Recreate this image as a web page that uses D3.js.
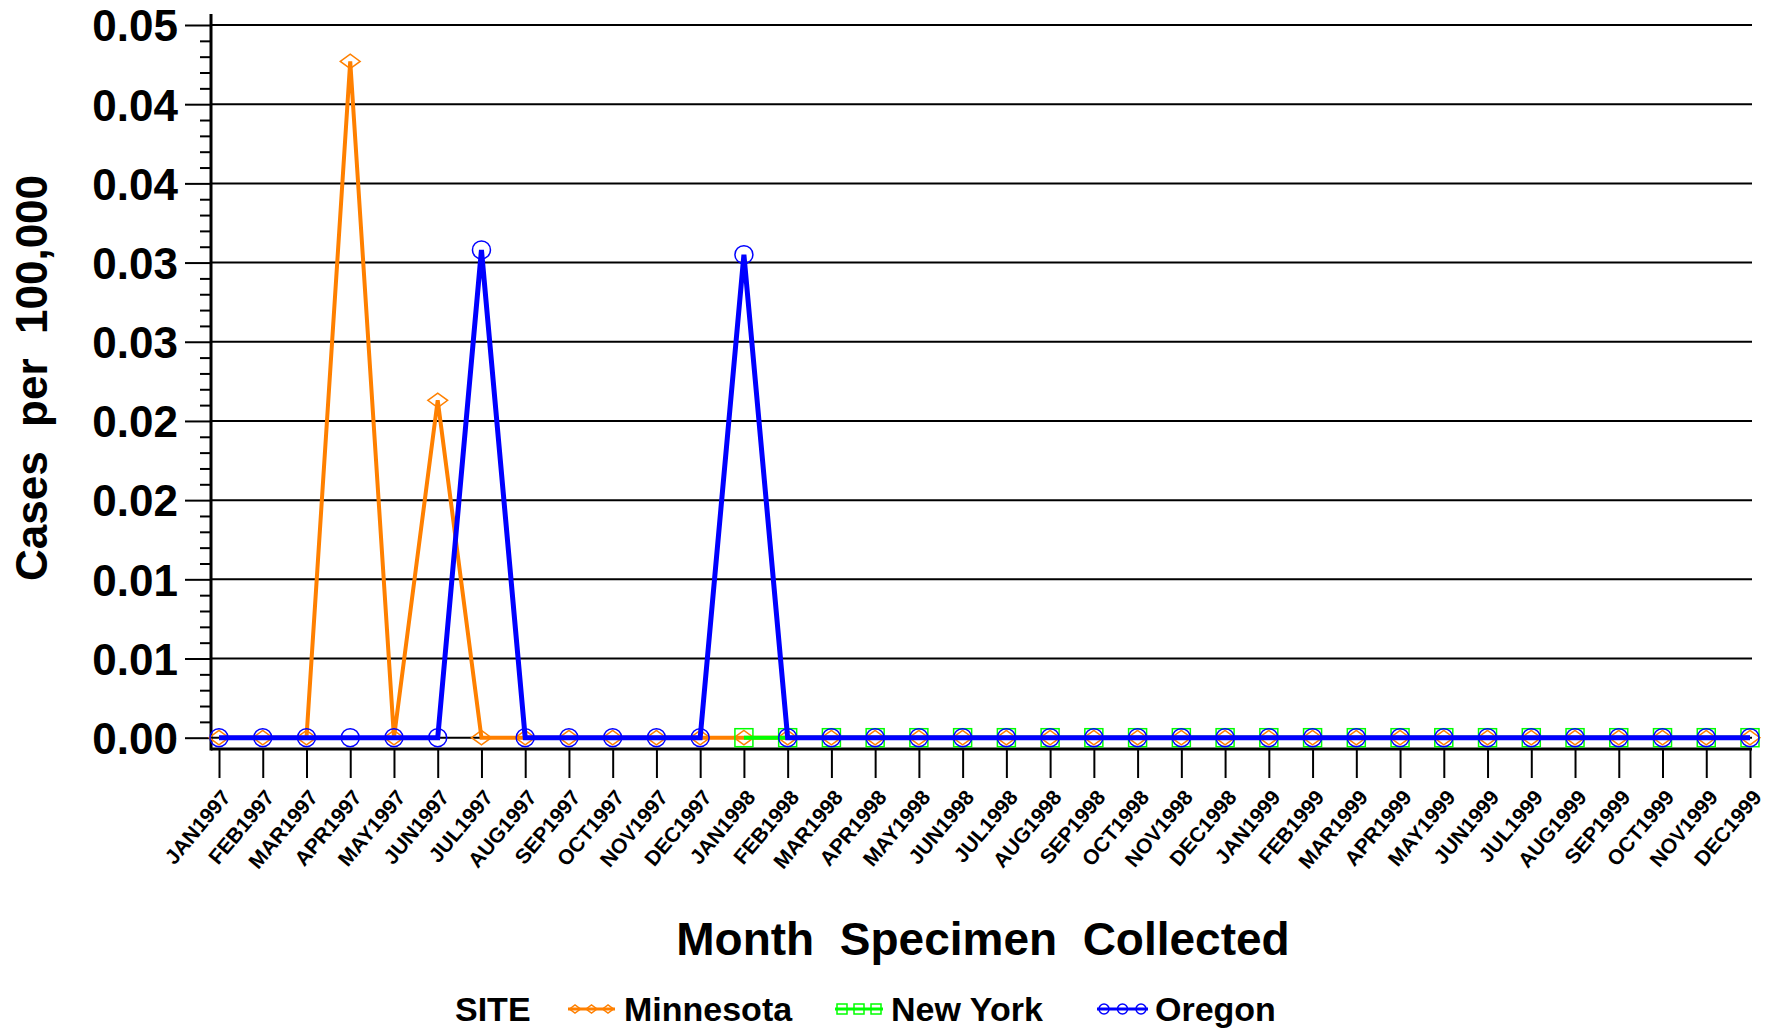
<!DOCTYPE html>
<html>
<head>
<meta charset="utf-8">
<script src="https://cdn.jsdelivr.net/npm/d3@7"></script>
<style>
  html, body { margin: 0; padding: 0; background: #fff; }
  svg { display: block; font-family: "Liberation Sans", Arial, Helvetica, sans-serif; }
  text { white-space: pre; }
</style>
</head>
<body>
<svg id="chart" width="1769" height="1031"></svg>
<script>
const months = ["JAN1997","FEB1997","MAR1997","APR1997","MAY1997","JUN1997","JUL1997","AUG1997","SEP1997","OCT1997","NOV1997","DEC1997",
                "JAN1998","FEB1998","MAR1998","APR1998","MAY1998","JUN1998","JUL1998","AUG1998","SEP1998","OCT1998","NOV1998","DEC1998",
                "JAN1999","FEB1999","MAR1999","APR1999","MAY1999","JUN1999","JUL1999","AUG1999","SEP1999","OCT1999","NOV1999","DEC1999"];
const minnesota = [0,0,0,0.0427,0,0.0213,0,0,0,0,0,0, 0,0,0,0,0,0,0,0,0,0,0,0, 0,0,0,0,0,0,0,0,0,0,0,0];
const newYork   = [null,null,null,null,null,null,null,null,null,null,null,null, 0,0,0,0,0,0,0,0,0,0,0,0, 0,0,0,0,0,0,0,0,0,0,0,0];
const oregon    = [0,0,0,0,0,0,0.0308,0,0,0,0,0, 0.0305,0,0,0,0,0,0,0,0,0,0,0, 0,0,0,0,0,0,0,0,0,0,0,0];
const yTickValues = [0,0.005,0.010,0.015,0.020,0.025,0.030,0.035,0.040,0.045];
const yTickLabels = ["0.00","0.01","0.01","0.02","0.02","0.03","0.03","0.04","0.04","0.05"];
const seriesNames = ["Minnesota","New York","Oregon"];
const seriesColors = ["#ff8000","#00ff00","#0000ff"];
const seriesShapes = ["diamond","square","circle"];

const svg = d3.select("#chart");
const axisLeft = 211, axisRight = 1752, axisBottom = 749, axisTop = 14;

const x = d3.scalePoint().domain(months).range([219, 1750]);
const y = d3.scaleLinear().domain([0, 0.045]).range([737.7, 25]);

// gridlines
svg.append("g").selectAll("line").data(yTickValues).join("line")
  .attr("x1", axisLeft).attr("x2", axisRight)
  .attr("y1", d => y(d)).attr("y2", d => y(d))
  .attr("stroke", "#000").attr("stroke-width", 2);

// y axis major ticks
const yAxis = d3.axisLeft(y).tickValues(yTickValues)
  .tickFormat((d, i) => yTickLabels[i]).tickSize(26).tickPadding(7);
const gy = svg.append("g").attr("transform", `translate(${axisLeft},0)`).call(yAxis);
gy.select(".domain").remove();
gy.selectAll(".tick line").attr("stroke", "#000").attr("stroke-width", 2);
gy.selectAll(".tick text").attr("font-size", 44).attr("font-weight", "bold")
  .attr("fill", "#000").attr("dy", "0.36em");

// y minor ticks
const minor = d3.range(0, 0.0451, 0.001).filter(v => !yTickValues.some(t => Math.abs(t - v) < 1e-9));
const gMinor = svg.append("g").attr("transform", `translate(${axisLeft},0)`)
  .call(d3.axisLeft(y).tickValues(minor).tickSize(11).tickFormat(""));
gMinor.select(".domain").remove();
gMinor.selectAll(".tick line").attr("stroke", "#000").attr("stroke-width", 2);

// y axis line
svg.append("line").attr("x1", axisLeft).attr("x2", axisLeft)
  .attr("y1", axisTop).attr("y2", axisBottom + 1.5)
  .attr("stroke", "#000").attr("stroke-width", 3);

// x axis
const xAxis = d3.axisBottom(x).tickSize(29).tickFormat("");
const gx = svg.append("g").attr("transform", `translate(0,${axisBottom})`).call(xAxis);
gx.select(".domain").remove();
gx.selectAll(".tick line").attr("stroke", "#000").attr("stroke-width", 2);
svg.append("line").attr("x1", axisLeft).attr("x2", axisRight)
  .attr("y1", axisBottom).attr("y2", axisBottom)
  .attr("stroke", "#000").attr("stroke-width", 3);

// x tick labels
svg.append("g").selectAll("text").data(months).join("text")
  .attr("transform", d => `translate(${x(d) + 7},${793}) rotate(-50)`)
  .attr("text-anchor", "end")
  .attr("dy", "0.35em")
  .attr("font-size", 21).attr("font-weight", "bold").attr("fill", "#000")
  .text(d => d);

// series
const series = [minnesota, newYork, oregon];
const widths = [4, 4, 5];
const line = d3.line().defined(d => d.v !== null).x(d => x(d.m)).y(d => y(d.v));

function drawMarker(g, shape, cx, cy, color, r) {
  if (shape === "circle") {
    g.append("circle").attr("cx", cx).attr("cy", cy).attr("r", r)
      .attr("fill", "none").attr("stroke", color).attr("stroke-width", 1.5);
  } else if (shape === "square") {
    g.append("rect").attr("x", cx - r).attr("y", cy - r).attr("width", 2 * r).attr("height", 2 * r)
      .attr("fill", "none").attr("stroke", color).attr("stroke-width", 1.5);
  } else {
    g.append("path").attr("d", `M${cx - r * 1.1},${cy} L${cx},${cy - r * 0.8} L${cx + r * 1.1},${cy} L${cx},${cy + r * 0.8} Z`)
      .attr("fill", "none").attr("stroke", color).attr("stroke-width", 1.5);
  }
}

series.forEach((vals, si) => {
  const pts = months.map((m, i) => ({ m, v: vals[i] }));
  const g = svg.append("g");
  g.append("path").datum(pts).attr("d", line)
    .attr("fill", "none").attr("stroke", seriesColors[si]).attr("stroke-width", widths[si])
    .attr("stroke-linejoin", "miter");
  pts.filter(p => p.v !== null).forEach(p => {
    drawMarker(g, seriesShapes[si], x(p.m), y(p.v), seriesColors[si], 9);
  });
});

// axis titles
svg.append("text").attr("transform", "translate(47,378) rotate(-90)")
  .attr("text-anchor", "middle").attr("font-size", 44).attr("font-weight", "bold")
  .attr("fill", "#000").text("Cases  per  100,000");

svg.append("text").attr("x", 983).attr("y", 955)
  .attr("text-anchor", "middle").attr("font-size", 46).attr("font-weight", "bold")
  .attr("fill", "#000").text("Month  Specimen  Collected");

// legend
const legY = 1021;
svg.append("text").attr("x", 455).attr("y", legY).attr("font-size", 34).attr("font-weight", "bold")
  .attr("fill", "#000").text("SITE");
const legSym = [[568, 615, 624], [835, 883, 891], [1097, 1148, 1155]];
seriesNames.forEach((name, i) => {
  const [x0, x1, tx] = legSym[i];
  const g = svg.append("g");
  const cy = legY - 12;
  g.append("line").attr("x1", x0).attr("x2", x1).attr("y1", cy).attr("y2", cy)
    .attr("stroke", seriesColors[i]).attr("stroke-width", 3);
  [0, 0.5, 1].forEach(f => drawMarker(g, seriesShapes[i], x0 + 7 + f * (x1 - x0 - 14), cy, seriesColors[i], 5));
  svg.append("text").attr("x", tx).attr("y", legY).attr("font-size", 34).attr("font-weight", "bold")
    .attr("fill", "#000").text(name);
});
</script>
</body>
</html>
